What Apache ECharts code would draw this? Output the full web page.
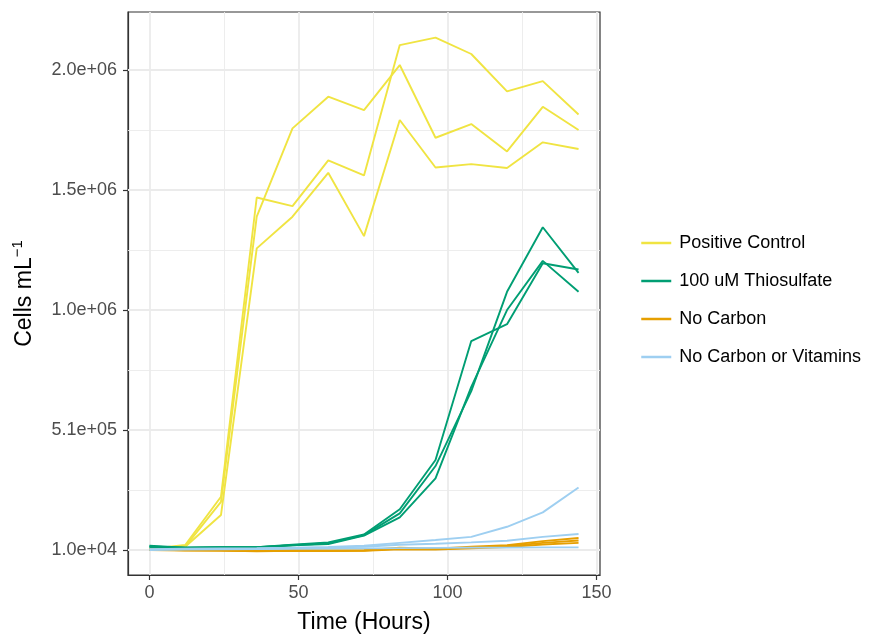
<!DOCTYPE html>
<html>
<head>
<meta charset="utf-8">
<title>Cells per mL over time</title>
<script src="https://cdn.jsdelivr.net/npm/echarts@6/dist/echarts.min.js"></script>
<style>
    html, body { margin: 0; padding: 0; background: #fff; }
    #main { width: 872px; height: 635px; }
</style>
</head>
<body>
<div id="main"></div>
<script>
// sampling times (hours)
var hours = [0, 12, 24, 36, 48, 60, 72, 84, 96, 108, 120, 132, 144];

// Positive Control replicates
var posCtrl1 = [12000, 24000, 211000, 1399000, 1767000, 1899000, 1843000, 2031000, 1728000, 1785000, 1671000, 1857000, 1760000];
var posCtrl2 = [15000, 31000, 232000, 1479000, 1443000, 1634000, 1571000, 2114000, 2145000, 2077000, 1921000, 1964000, 1825000];
var posCtrl3 = [10000, 24000, 156000, 1267000, 1399000, 1582000, 1318000, 1802000, 1604000, 1618000, 1602000, 1709000, 1681000];

// 100 uM Thiosulfate replicates
var thio1 = [25000, 20000, 22000, 22000, 32000, 42000, 75000, 180000, 385000, 881000, 951000, 1205000, 1179000];
var thio2 = [22000, 20000, 22000, 22000, 30000, 38000, 72000, 163000, 360000, 672000, 1086000, 1355000, 1165000];
var thio3 = [28000, 20000, 21000, 21000, 30000, 35000, 70000, 146000, 309000, 690000, 1010000, 1215000, 1086000];

// No Carbon replicates
var noC1 = [14000, 10000, 9000, 7000, 9000, 8000, 9000, 20000, 16000, 24000, 30000, 47000, 60000];
var noC2 = [12000, 9000, 8000, 6000, 8000, 7000, 8000, 16000, 14000, 20000, 26000, 40000, 50000];
var noC3 = [10000, 8000, 8000, 5000, 7000, 6000, 7000, 13000, 12000, 17000, 22000, 33000, 40000];

// No Carbon or Vitamins replicates
var noCV1 = [14000, 16000, 17000, 18000, 20000, 23000, 28000, 40000, 52000, 65000, 107000, 167000, 271000];
var noCV2 = [12000, 14000, 15000, 16000, 18000, 20000, 24000, 32000, 36000, 42000, 49000, 65000, 77000];
var noCV3 = [10000, 12000, 13000, 14000, 15000, 16000, 17000, 18000, 19000, 20000, 20000, 21000, 21000];

var groupNames = ['Positive Control', '100 uM Thiosulfate', 'No Carbon', 'No Carbon or Vitamins'];

// axis breaks
var xTicks = [0, 50, 100, 150];
var xMinor = [25, 75, 125];
var yTicks = [10000, 510000, 1010000, 1510000, 2010000];
var yTickLabels = ['1.0e+04', '5.1e+05', '1.0e+06', '1.5e+06', '2.0e+06'];
var yMinor = [260000, 760000, 1260000, 1760000];

var colors = ['#F0E442', '#009E73', '#E69F00', '#9ECFF1'];
var font = "'Liberation Sans', Arial, Helvetica, sans-serif";

var myChart = echarts.init(document.getElementById('main'));

function makeLine(name, values, color) {
    return {
        type: 'line',
        name: name,
        data: hours.map(function (h, i) { return [h, values[i]]; }),
        symbol: 'none',
        showSymbol: false,
        silent: true,
        color: color,
        lineStyle: { color: color, width: 1.9 },
        emphasis: { disabled: true },
        z: 2
    };
}

// grid lines (ggplot style) drawn as mark lines under the data
var gridLines = [];
xTicks.forEach(function (v) { gridLines.push({ xAxis: v, lineStyle: { color: '#EBEBEB', width: 1.8, type: 'solid' } }); });
xMinor.forEach(function (v) { gridLines.push({ xAxis: v, lineStyle: { color: '#EBEBEB', width: 0.9, type: 'solid' } }); });
yTicks.forEach(function (v) { gridLines.push({ yAxis: v, lineStyle: { color: '#EBEBEB', width: 1.8, type: 'solid' } }); });
yMinor.forEach(function (v) { gridLines.push({ yAxis: v, lineStyle: { color: '#EBEBEB', width: 0.9, type: 'solid' } }); });

var series = [{
    type: 'line',
    name: 'grid',
    data: [],
    silent: true,
    markLine: {
        silent: true,
        z: 1,
        symbol: ['none', 'none'],
        label: { show: false },
        animation: false,
        data: gridLines
    }
}];

series.push(makeLine(groupNames[0], posCtrl1, colors[0]));
series.push(makeLine(groupNames[0], posCtrl2, colors[0]));
series.push(makeLine(groupNames[0], posCtrl3, colors[0]));
series.push(makeLine(groupNames[1], thio1, colors[1]));
series.push(makeLine(groupNames[1], thio2, colors[1]));
series.push(makeLine(groupNames[1], thio3, colors[1]));
series.push(makeLine(groupNames[2], noC1, colors[2]));
series.push(makeLine(groupNames[2], noC2, colors[2]));
series.push(makeLine(groupNames[2], noC3, colors[2]));
series.push(makeLine(groupNames[3], noCV1, colors[3]));
series.push(makeLine(groupNames[3], noCV2, colors[3]));
series.push(makeLine(groupNames[3], noCV3, colors[3]));

var option = {
    animation: false,
    backgroundColor: '#fff',
    textStyle: { fontFamily: font },
    grid: {
        left: 128,
        right: 272,
        top: 12,
        bottom: 60,
        outerBoundsMode: 'none',
        containLabel: false,
        show: true,
        backgroundColor: '#fff',
        borderColor: '#333333',
        borderWidth: 1.2
    },
    legend: {
        data: groupNames,
        orient: 'vertical',
        left: 640,
        top: 234,
        itemWidth: 30,
        itemHeight: 14,
        itemGap: 20,
        padding: 0,
        selectedMode: false,
        // hide the circle marker, keep only the line key
        itemStyle: { color: 'transparent', borderWidth: 0, opacity: 0 },
        lineStyle: { width: 2.5 },
        textStyle: { fontSize: 18, color: '#000', fontFamily: font, padding: [0, 0, 0, 3] }
    },
    xAxis: {
        type: 'value',
        min: -7.2,
        max: 151.2,
        name: 'Time (Hours)',
        nameLocation: 'middle',
        nameGap: 36,
        nameTextStyle: { fontSize: 23, color: '#000', fontFamily: font },
        axisLine: { show: true, onZero: false, lineStyle: { color: '#333333', width: 1.2 } },
        axisTick: { show: true, length: 5, customValues: xTicks, lineStyle: { color: '#333333', width: 1.2 } },
        axisLabel: { customValues: xTicks, fontSize: 18, color: '#4D4D4D', margin: 9, fontFamily: font },
        splitLine: { show: false }
    },
    yAxis: {
        type: 'value',
        min: -94000,
        max: 2252000,
        name: '{m|Cells mL}{sup|\u22121}',
        nameLocation: 'middle',
        nameRotate: 90,
        nameGap: 88,
        nameTextStyle: {
            color: '#000',
            fontFamily: font,
            rich: {
                m: { fontSize: 23, lineHeight: 30, color: '#000', fontFamily: font },
                sup: { fontSize: 15, lineHeight: 15, verticalAlign: 'top', color: '#000', fontFamily: font }
            }
        },
        axisLine: { show: true, onZero: false, lineStyle: { color: '#333333', width: 1.2 } },
        axisTick: { show: true, length: 5, customValues: yTicks, lineStyle: { color: '#333333', width: 1.2 } },
        axisLabel: {
            customValues: yTicks,
            fontSize: 18,
            color: '#4D4D4D',
            margin: 11,
            fontFamily: font,
            formatter: function (v) {
                var i = yTicks.indexOf(v);
                return i >= 0 ? yTickLabels[i] : '';
            }
        },
        splitLine: { show: false }
    },
    series: series
};

myChart.setOption(option);
</script>
</body>
</html>
